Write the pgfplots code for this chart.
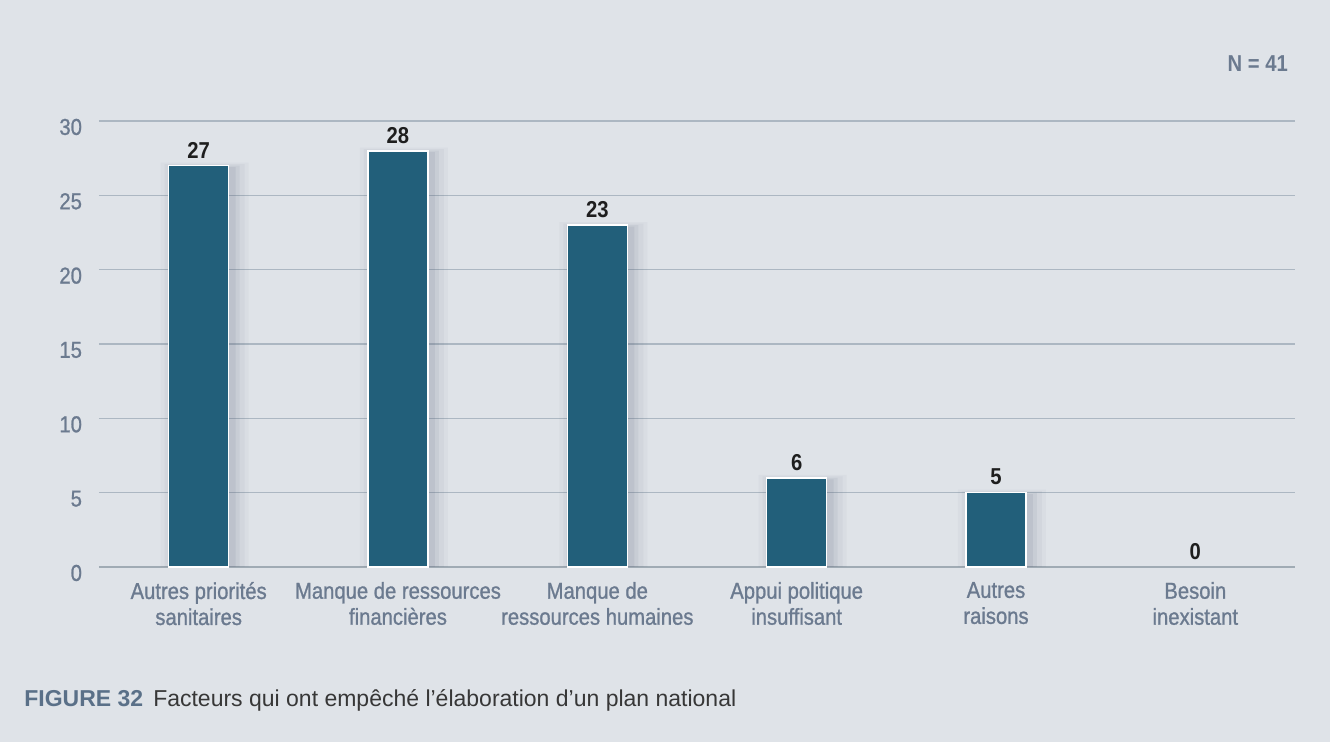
\documentclass[border=0pt]{standalone}
\usepackage{pgfplots}
\pgfplotsset{compat=1.18}
\usepackage{fontspec}
\setmainfont{Liberation Sans}[FakeStretch=0.88]
\newfontfamily\ticfont{Liberation Sans}[FakeStretch=0.88, FakeBold=1]
\newfontfamily\capfont{Liberation Sans}
\definecolor{bg}{RGB}{223,227,232}
\definecolor{gridc}{RGB}{172,183,194}
\definecolor{basec}{RGB}{160,171,180}
\definecolor{tickc}{RGB}{107,122,143}
\definecolor{barc}{RGB}{34,95,122}
\definecolor{figc}{RGB}{90,112,136}
\definecolor{capc}{RGB}{55,55,55}
\definecolor{shadc}{RGB}{80,90,115}
\begin{document}
\begin{tikzpicture}
\fill[bg] (0,0) rectangle (665pt,371pt);
\useasboundingbox (0,0) rectangle (665pt,371pt);
\begin{axis}[
  at={(49.5pt,87.5pt)}, anchor=south west,
  scale only axis, width=598pt, height=223pt,
  xmin=-0.5, xmax=5.5, ymin=0, ymax=30,
  axis line style={draw=none},
  major tick length=0pt,
  ytick={5,10,...,30},
  extra y ticks={0},
  extra y tick style={grid style={basec, line width=1.3pt}},
  ymajorgrids,
  grid style={gridc, line width=0.7pt},
  yticklabel style={text=tickc, font=\ticfont\fontsize{11.5}{13}\selectfont, xshift=-5pt, yshift=-3pt},
  /pgf/number format/assume math mode=true,
  xtick={0,1,2,3,4,5},
  xticklabels={{Autres priorités\\sanitaires},{Manque de ressources\\financières},{Manque de\\ressources humaines},{Appui politique\\insuffisant},{Autres\\raisons},{Besoin\\inexistant}},
  xticklabel style={align=center, text=tickc, font=\ticfont\fontsize{11.5}{13}\selectfont, yshift=-4pt},
  ybar,
  clip=false,
]
\addplot[fill=shadc, fill opacity=0.04, draw=none, bar width=44pt, bar shift=3pt]
  coordinates {(0,27.2) (1,28.2) (2,23.2) (3,6.2) (4,5.2)};
\addplot[fill=shadc, fill opacity=0.05, draw=none, bar width=40pt, bar shift=3pt]
  coordinates {(0,27.1) (1,28.1) (2,23.1) (3,6.1) (4,5.1)};
\addplot[fill=shadc, fill opacity=0.07, draw=none, bar width=36pt, bar shift=2.5pt]
  coordinates {(0,27) (1,28) (2,23) (3,6) (4,5)};
\addplot[fill=shadc, fill opacity=0.09, draw=none, bar width=33pt, bar shift=2pt]
  coordinates {(0,26.9) (1,27.9) (2,22.9) (3,5.9) (4,4.9)};
\addplot[fill=barc, draw=white, line width=0.8pt, bar width=30pt, bar shift=0pt,
  nodes near coords,
  every node near coord/.append style={text={rgb,255:red,30;green,30;blue,30}, font=\bfseries\fontsize{11.5}{13}\selectfont}]
  coordinates {(0,27) (1,28) (2,23) (3,6) (4,5)};
\addplot[draw=none, fill=none, bar width=30pt, bar shift=0pt,
  nodes near coords,
  every node near coord/.append style={text={rgb,255:red,30;green,30;blue,30}, font=\bfseries\fontsize{11.5}{13}\selectfont}]
  coordinates {(5,0)};
\end{axis}
\node[anchor=east, text=tickc, font=\fontsize{11.5}{13}\selectfont\bfseries] at (647.5pt,339pt) {N = 41};
\node[anchor=west, inner sep=0pt, font=\capfont\fontsize{11.5}{13}\selectfont] at (12pt,21pt) {\textcolor{figc}{\bfseries FIGURE 32}\hspace{5pt}\textcolor{capc}{Facteurs qui ont empêché l’élaboration d’un plan national}};
\end{tikzpicture}
\end{document}
